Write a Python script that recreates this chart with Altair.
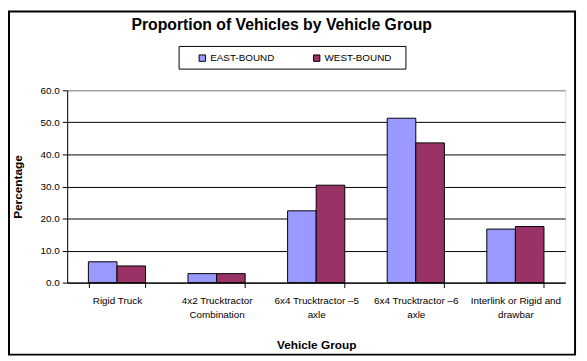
import json
import altair as alt
import pandas as pd

categories = [
    "Rigid Truck",
    "4x2 Trucktractor Combination",
    "6x4 Trucktractor –5 axle",
    "6x4 Trucktractor –6 axle",
    "Interlink or Rigid and drawbar",
]
label_lines = [
    ["Rigid Truck"],
    ["4x2 Trucktractor", "Combination"],
    ["6x4 Trucktractor –5", "axle"],
    ["6x4 Trucktractor –6", "axle"],
    ["Interlink or Rigid and", "drawbar"],
]
series = ["EAST-BOUND", "WEST-BOUND"]
east = [6.5, 2.8, 22.4, 51.3, 16.7]
west = [5.2, 2.8, 30.4, 43.6, 17.5]
colors = ["#9999FF", "#993366"]
y_ticks = [0, 10, 20, 30, 40, 50, 60]

rows = []
for c, e, w in zip(categories, east, west):
    rows.append({"group": c, "direction": series[0], "value": e})
    rows.append({"group": c, "direction": series[1], "value": w})
df = pd.DataFrame(rows)

# label expression: map category -> list of lines
expr = ""
for c, lines in zip(categories, label_lines):
    expr += f"datum.value == {json.dumps(c, ensure_ascii=False)} ? {json.dumps(lines, ensure_ascii=False)} : "
expr += "datum.label"

FONT = "Arial, Liberation Sans, sans-serif"
W, H = 505, 195
PAD = {"left": 60, "top": 81, "right": 14, "bottom": 77}

bars = alt.Chart(df).mark_bar(stroke="black", strokeWidth=1).encode(
    x=alt.X(
        "group:N",
        sort=categories,
        scale=alt.Scale(paddingInner=0.426, paddingOuter=0.213),
        axis=alt.Axis(
            title="Vehicle Group",
            labelAngle=0,
            labelExpr=expr,
            labelFont=FONT,
            labelFontSize=10,
            labelColor="black",
            labelPadding=8,
            labelLineHeight=14,
            labelLimit=200,
            tickBand="extent",
            tickSize=5,
            tickColor="black",
            domainColor="black",
            titleFont=FONT,
            titleFontSize=12,
            titleFontWeight="bold",
            titleColor="black",
            titlePadding=21,
        ),
    ),
    xOffset=alt.XOffset("direction:N", sort=series),
    y=alt.Y(
        "value:Q",
        scale=alt.Scale(domain=[0, 60], nice=False),
        axis=alt.Axis(
            title="Percentage",
            values=y_ticks,
            format=".1f",
            labelFont=FONT,
            labelFontSize=10,
            labelColor="black",
            labelPadding=3,
            tickSize=5,
            tickColor="black",
            domainColor="black",
            grid=True,
            gridColor=alt.condition("datum.value == 60", alt.value("#808080"), alt.value("black")),
            gridWidth=1,
            titleFont=FONT,
            titleFontSize=12,
            titleFontWeight="bold",
            titleColor="black",
            titlePadding=16,
        ),
    ),
    color=alt.Color(
        "direction:N",
        sort=series,
        scale=alt.Scale(domain=series, range=colors),
        legend=alt.Legend(
            title=None,
            orient="none",
            direction="horizontal",
            legendX=132,
            legendY=-38,
            symbolType="square",
            symbolSize=42,
            symbolStrokeColor="black",
            symbolStrokeWidth=1,
            symbolOffset=0,
            labelFont=FONT,
            labelFontSize=10,
            labelColor="black",
            labelOffset=3,
            columnPadding=36,
            padding=0,
        ),
    ),
)

one = alt.Data(values=[{}])
outer_border = alt.Chart(one).mark_rect(fillOpacity=0, stroke="black", strokeWidth=2).encode(
    x=alt.value(-59), x2=alt.value(515), y=alt.value(-80), y2=alt.value(H + 73)
)
legend_box = alt.Chart(one).mark_rect(fill="white", stroke="black", strokeWidth=1).encode(
    x=alt.value(113.5), x2=alt.value(343.5), y=alt.value(-44.5), y2=alt.value(-21.5)
)

chart = alt.layer(outer_border, legend_box, bars).properties(
    width=W,
    height=H,
    padding=PAD,
    autosize=alt.AutoSizeParams(type="none"),
    title=alt.TitleParams(
        "Proportion of Vehicles by Vehicle Group",
        font=FONT,
        fontSize=16,
        fontWeight="bold",
        color="black",
        anchor="middle",
        frame="group",
        dx=-35,
        dy=27,
    ),
).configure_view(
    fill="#C0C0C0", stroke="#808080", strokeWidth=1
).configure(background="white")

chart.save("out.html", embed_options={"renderer": "svg", "actions": False})
